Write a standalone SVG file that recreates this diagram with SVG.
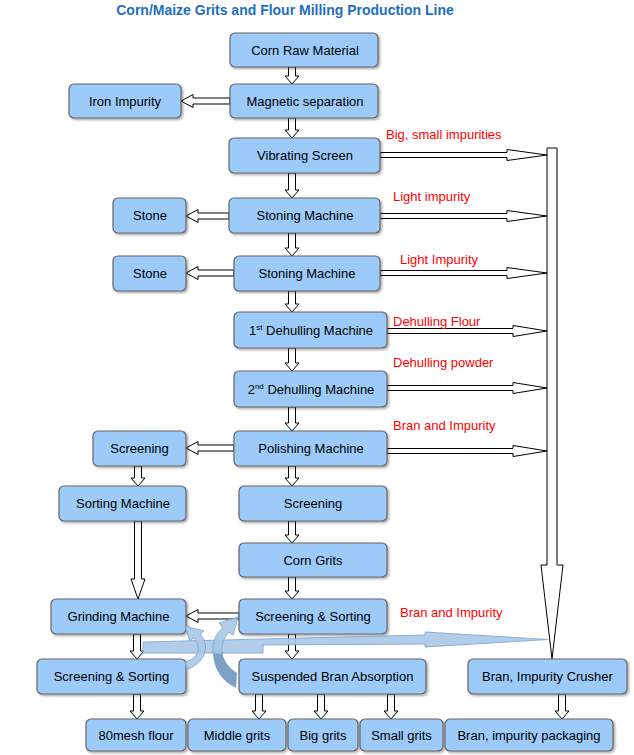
<svg xmlns="http://www.w3.org/2000/svg" width="634" height="755" viewBox="0 0 634 755">
<style>
.box{fill:#9dcbf9;stroke:#666;stroke-width:1.2;filter:url(#sh)}
.t{font-family:"Liberation Sans",Arial,sans-serif;font-size:13px;fill:#000;text-anchor:middle}
.r{font-family:"Liberation Sans",Arial,sans-serif;font-size:13px;fill:#ff0000}
.ha{fill:#fff;stroke:#000;stroke-width:1}
.blue{fill:#a9c8e8;stroke:#7fa6cf;stroke-width:1;opacity:0.9}
</style>
<defs>
<filter id="sh" x="-10%" y="-20%" width="130%" height="150%">
<feDropShadow dx="1.5" dy="1.5" stdDeviation="1" flood-color="#000" flood-opacity="0.35"/>
</filter>
</defs>
<rect width="634" height="755" fill="#fff"/>
<text x="285" y="15" font-family="Liberation Sans,Arial,sans-serif" font-size="14" font-weight="bold" fill="#1f6dc2" text-anchor="middle">Corn/Maize Grits and Flour Milling Production Line</text>

<g id="connectors">
<polygon class="ha" points="288.5,67 295.5,67 295.5,76 299,76 292,84 285,76 288.5,76"/>
<polygon class="ha" points="288.5,118 295.5,118 295.5,130 299,130 292,138 285,130 288.5,130"/>
<polygon class="ha" points="288.5,173 295.5,173 295.5,190 299,190 292,198 285,190 288.5,190"/>
<polygon class="ha" points="288.5,233 295.5,233 295.5,248 299,248 292,256 285,248 288.5,248"/>
<polygon class="ha" points="288.5,291 295.5,291 295.5,304 299,304 292,312 285,304 288.5,304"/>
<polygon class="ha" points="288.5,348 295.5,348 295.5,363 299,363 292,371 285,363 288.5,363"/>
<polygon class="ha" points="288.5,407 295.5,407 295.5,423 299,423 292,431 285,423 288.5,423"/>
<polygon class="ha" points="288.5,466 295.5,466 295.5,478 299,478 292,486 285,478 288.5,478"/>
<polygon class="ha" points="288.5,521 295.5,521 295.5,535 299,535 292,543 285,535 288.5,535"/>
<polygon class="ha" points="288.5,577 295.5,577 295.5,591 299,591 292,599 285,591 288.5,591"/>
<polygon class="ha" points="288.5,634 295.5,634 295.5,651 299,651 292,659 285,651 288.5,651"/>
<polygon class="ha" points="134.5,466 141.5,466 141.5,478 145,478 138,486 131,478 134.5,478"/>
<polygon class="ha" points="134.5,521 141.5,521 141.5,579 145,579 138,599 131,579 134.5,579"/>
<polygon class="ha" points="133.5,634 140.5,634 140.5,651 144,651 137,659 130,651 133.5,651"/>
<polygon class="ha" points="133.5,694 140.5,694 140.5,711 144,711 137,719 130,711 133.5,711"/>
<polygon class="ha" points="255.5,694 262.5,694 262.5,711 266,711 259,719 252,711 255.5,711"/>
<polygon class="ha" points="317.5,694 324.5,694 324.5,711 328,711 321,719 314,711 317.5,711"/>
<polygon class="ha" points="387.5,694 394.5,694 394.5,711 398,711 391,719 384,711 387.5,711"/>
<polygon class="ha" points="558.5,694 565.5,694 565.5,711 569,711 562,719 555,711 558.5,711"/>
<polygon class="ha" points="230,98 193,98 193,94.5 181,101 193,107.5 193,104 230,104"/>
<polygon class="ha" points="229,213 198,213 198,209.5 186,216 198,222.5 198,219 229,219"/>
<polygon class="ha" points="234,270 198,270 198,266.5 186,273 198,279.5 198,276 234,276"/>
<polygon class="ha" points="234,445 198,445 198,441.5 186,448 198,454.5 198,451 234,451"/>
<polygon class="ha" points="239,613 198,613 198,609.5 186,616 198,622.5 198,619 239,619"/>
<polygon class="ha" points="380,152.5 507,152.5 507,149.5 547,155 507,160.5 507,157.5 380,157.5"/>
<polygon class="ha" points="380,213.5 507,213.5 507,210.5 547,216 507,221.5 507,218.5 380,218.5"/>
<polygon class="ha" points="380,270.5 507,270.5 507,267.5 547,273 507,278.5 507,275.5 380,275.5"/>
<polygon class="ha" points="387,328.5 513,328.5 513,325.5 547,331 513,336.5 513,333.5 387,333.5"/>
<polygon class="ha" points="387,385.5 513,385.5 513,382.5 547,388 513,393.5 513,390.5 387,390.5"/>
<polygon class="ha" points="387,448.5 513,448.5 513,445.5 547,451 513,456.5 513,453.5 387,453.5"/>
<polygon class="ha" points="547,148 557,148 557,565 563,565 552,659 541,565 547,565"/>
<line x1="557" y1="148" x2="557" y2="565" stroke="#777" stroke-width="1.5"/>
</g>

<g id="n-raw"><rect class="box" x="230" y="33" width="148" height="34" rx="5"/><text class="t" x="305" y="54.5">Corn Raw Material</text></g>
<g id="n-mag"><rect class="box" x="230" y="84" width="148" height="34" rx="5"/><text class="t" x="305" y="105.5">Magnetic separation</text></g>
<g id="n-iron"><rect class="box" x="69" y="84" width="112" height="34" rx="5"/><text class="t" x="125" y="105.5">Iron Impurity</text></g>
<g id="n-vib"><rect class="box" x="229" y="138" width="151" height="35" rx="5"/><text class="t" x="305" y="160">Vibrating Screen</text></g>
<g id="n-ston1"><rect class="box" x="229" y="198" width="151" height="35" rx="5"/><text class="t" x="305" y="220">Stoning Machine</text></g>
<g id="n-stone1"><rect class="box" x="113" y="198" width="73" height="35" rx="5"/><text class="t" x="150" y="220">Stone</text></g>
<g id="n-ston2"><rect class="box" x="234" y="256" width="146" height="35" rx="5"/><text class="t" x="307" y="278">Stoning Machine</text></g>
<g id="n-stone2"><rect class="box" x="113" y="256" width="73" height="35" rx="5"/><text class="t" x="150" y="278">Stone</text></g>
<g id="n-deh1"><rect class="box" x="234" y="312" width="153" height="36" rx="5"/><text class="t" x="311" y="334.5">1<tspan font-size="8" dy="-5">st</tspan><tspan dy="5"> Dehulling Machine</tspan></text></g>
<g id="n-deh2"><rect class="box" x="234" y="371" width="153" height="36" rx="5"/><text class="t" x="311" y="393.5">2<tspan font-size="8" dy="-5">nd</tspan><tspan dy="5"> Dehulling Machine</tspan></text></g>
<g id="n-pol"><rect class="box" x="234" y="431" width="153" height="35" rx="5"/><text class="t" x="311" y="453">Polishing Machine</text></g>
<g id="n-scrL"><rect class="box" x="93" y="431" width="93" height="35" rx="5"/><text class="t" x="139.5" y="453">Screening</text></g>
<g id="n-sort"><rect class="box" x="59" y="486" width="127" height="35" rx="5"/><text class="t" x="123" y="508">Sorting Machine</text></g>
<g id="n-scrC"><rect class="box" x="239" y="486" width="148" height="35" rx="5"/><text class="t" x="313" y="508">Screening</text></g>
<g id="n-grits"><rect class="box" x="239" y="543" width="148" height="34" rx="5"/><text class="t" x="313" y="564.5">Corn Grits</text></g>
<g id="n-ssC"><rect class="box" x="239" y="599" width="148" height="35" rx="5"/><text class="t" x="313" y="621">Screening &amp; Sorting</text></g>
<g id="n-grind"><rect class="box" x="51" y="599" width="135" height="35" rx="5"/><text class="t" x="118.5" y="621">Grinding Machine</text></g>
<g id="n-ssL"><rect class="box" x="37" y="659" width="149" height="35" rx="5"/><text class="t" x="111.5" y="681">Screening &amp; Sorting</text></g>
<g id="n-susp"><rect class="box" x="239" y="659" width="187" height="35" rx="5"/><text class="t" x="332.5" y="681">Suspended Bran Absorption</text></g>
<g id="n-crush"><rect class="box" x="468" y="659" width="159" height="35" rx="5"/><text class="t" x="547.5" y="681">Bran, Impurity Crusher</text></g>
<g id="n-f80"><rect class="box" x="86" y="719" width="100" height="32" rx="5"/><text class="t" x="136" y="739.5">80mesh flour</text></g>
<g id="n-mid"><rect class="box" x="188" y="719" width="98" height="32" rx="5"/><text class="t" x="237" y="739.5">Middle grits</text></g>
<g id="n-big"><rect class="box" x="288" y="719" width="70" height="32" rx="5"/><text class="t" x="323" y="739.5">Big grits</text></g>
<g id="n-small"><rect class="box" x="360" y="719" width="83" height="32" rx="5"/><text class="t" x="401.5" y="739.5">Small grits</text></g>
<g id="n-pack"><rect class="box" x="445" y="719" width="168" height="32" rx="5"/><text class="t" x="529" y="739.5">Bran, impurity packaging</text></g>

<g id="labels">
<text class="r" x="386" y="139">Big, small impurities</text>
<text class="r" x="393" y="201">Light impurity</text>
<text class="r" x="400" y="264">Light Impurity</text>
<text class="r" x="393" y="326">Dehulling Flour</text>
<text class="r" x="393" y="367">Dehulling powder</text>
<text class="r" x="393" y="430">Bran and Impurity</text>
<text class="r" x="400" y="617">Bran and Impurity</text>
</g>

<g id="blue-arrows">
<path class="blue" d="M143,642 L425,635 L425,632 L548,639.5 L425,647 L425,644 L263,645 L263,653 L143,653 Z"/>
<path class="blue" d="M187,669 C205,664 211,645 200,634 L204,631 L185,626 L190,641 L194,638 C202,648 198,659 185,662 Z"/>
<path d="M213,650 Q213,677 236,688 L237,673 Q224,665 222,652 Z" fill="#6f96c0" opacity="0.9"/>
<path class="blue" d="M213,654 C212,642 216,633 223,628 L219,623 L238,617 L233,635 L229,632 C224,637 221,645 222,654 Z"/>
</g>
</svg>
